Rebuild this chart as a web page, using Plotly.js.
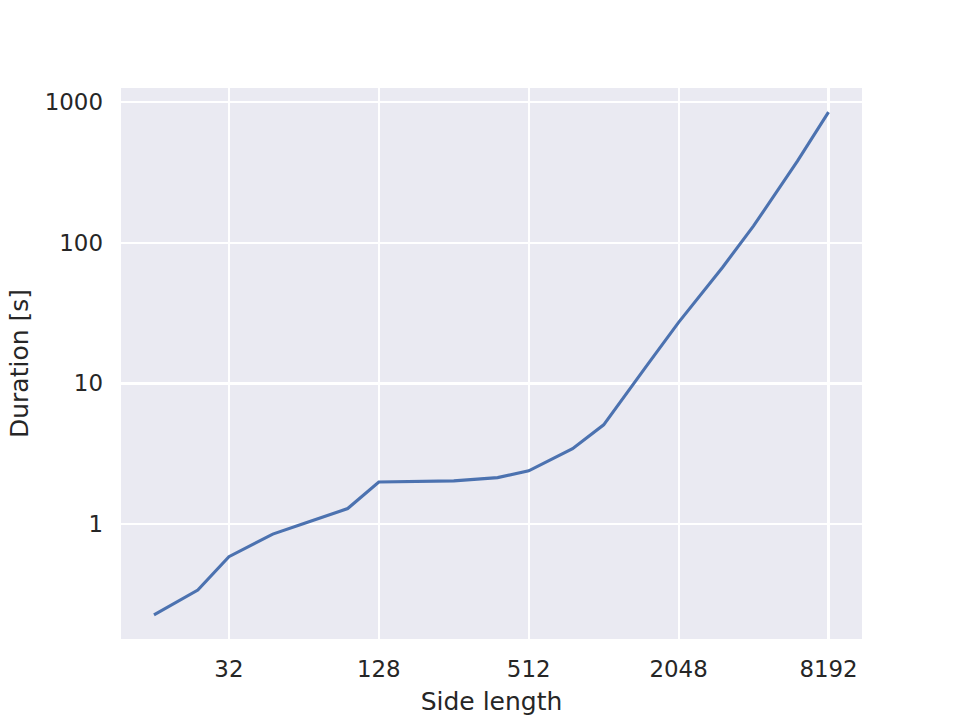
<!DOCTYPE html>
<html>
<head>
<meta charset="utf-8">
<script src="https://cdn.plot.ly/plotly-3.0.1.min.js"></script>
<style>html,body{margin:0;padding:0;background:#fff;}#chart{width:960px;height:720px;}</style>
</head>
<body>
<div id="chart"></div>
<script>
const sideLength = [16, 24, 32, 48, 64, 96, 128, 192, 256, 384, 512, 768, 1024, 1536, 2048, 3072, 4096, 6144, 8192];
const duration = [0.226, 0.340, 0.586, 0.849, 1.01, 1.29, 1.99, 2.00, 2.03, 2.14, 2.39, 3.44, 5.08, 13.6, 27.2, 66.8, 132, 381, 850];
const xTickVals = [32, 128, 512, 2048, 8192];
const xTickText = ['32', '128', '512', '2048', '8192'];
const yTickVals = [1, 10, 100, 1000];
const yTickText = ['1', '10', '100', '1000'];

const font = 'DejaVu Sans, sans-serif';
const textColor = '#262626';

Plotly.newPlot('chart', [{
  x: sideLength,
  y: duration,
  type: 'scatter',
  mode: 'lines',
  line: {color: '#4C72B0', width: 3.1},
  hoverinfo: 'skip'
}], {
  width: 960,
  height: 720,
  margin: {l: 121, r: 97.5, t: 87.5, b: 81, pad: 0},
  paper_bgcolor: '#ffffff',
  plot_bgcolor: '#EAEAF2',
  showlegend: false,
  font: {family: font, color: textColor},
  xaxis: {
    type: 'log',
    range: [1.0717, 4.0479],
    tickvals: xTickVals,
    ticktext: xTickText,
    ticks: '',
    ticklabelstandoff: 14,
    tickfont: {family: font, size: 22.9, color: textColor},
    showgrid: true,
    gridcolor: '#ffffff',
    gridwidth: 2.1,
    zeroline: false,
    showline: false,
    automargin: false,
    title: {text: 'Side length', font: {family: font, size: 25, color: textColor}, standoff: 11}
  },
  yaxis: {
    type: 'log',
    range: [-0.817, 3.1009],
    tickvals: yTickVals,
    ticktext: yTickText,
    ticks: '',
    ticklabelstandoff: 17,
    tickfont: {family: font, size: 22.9, color: textColor},
    showgrid: true,
    gridcolor: '#ffffff',
    gridwidth: 2.1,
    zeroline: false,
    showline: false,
    automargin: false,
    title: {text: 'Duration [s]', font: {family: font, size: 25, color: textColor}, standoff: 8}
  }
}, {displayModeBar: false, staticPlot: true});
</script>
</body>
</html>
